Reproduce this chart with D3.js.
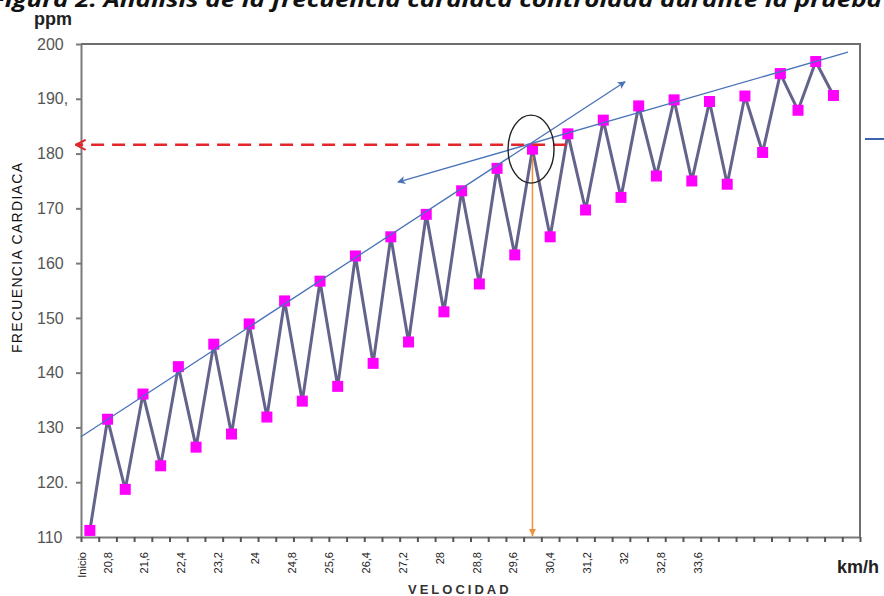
<!DOCTYPE html>
<html>
<head>
<meta charset="utf-8">
<script src="https://cdn.jsdelivr.net/npm/d3@7"></script>
<style>
  body { margin: 0; background: #fff; }
  svg { display: block; font-family: "Liberation Sans", Arial, sans-serif; }
</style>
</head>
<body>
<svg class="chart" width="884" height="596"></svg>
<script>
// Frecuencia cardiaca (ppm) por escalón, de "Inicio" en adelante
const heartRate = [111.2, 131.5, 118.7, 136.1, 123, 141.1, 126.4, 145.2, 128.8, 148.9,
    131.9, 153.1, 134.8, 156.7, 137.5, 161.3, 141.7, 164.8, 145.6, 168.9,
    151.1, 173.2, 156.2, 177.3, 161.5, 180.8, 164.8, 183.6, 169.7, 186.1,
    172, 188.7, 175.9, 189.8, 175, 189.5, 174.4, 190.5, 180.2, 194.6,
    187.9, 196.8, 190.6]

// Etiquetas de velocidad (km/h)
const speedLabels = [20.8, 21.6, 22.4, 23.2, 24, 24.8, 25.6, 26.4, 27.2, 28,
    28.8, 29.6, 30.4, 31.2, 32, 32.8, 33.6]

const yTicks = [200, 190, 180, 170, 160, 150, 140, 130, 120, 110]
const yTickLabels = ['200', '190,', '180', '170', '160', '150', '140', '130', '120.', '110']

// Anotaciones (en escalones / ppm)
const steepTrend = [[0, 128.3], [30.73, 193.1]]
const flatTrend = [[43.32, 198.5], [17.9, 174.8]]
const thresholdHr = 181.6
const thresholdStep = 25.5

const plotLeft = 81, plotRight = 860, plotTop = 44, plotBottom = 537
const slotCount = heartRate.length + 1

const x = d3.scaleLinear().domain([0, slotCount]).range([plotLeft, plotRight])
const y = d3.scaleLinear().domain([110, 200]).range([plotBottom, plotTop])
const speed = d3.scaleLinear()
    .domain([speedLabels[0], speedLabels[speedLabels.length - 1]])
    .range([x(1.5), x(34.85)])

const svg = d3.select('.chart')

const defs = svg.append('defs')

defs.append('marker')
    .attr('id', 'arrow-blue')
    .attr('viewBox', '0 0 10 10')
    .attr('refX', 9).attr('refY', 5)
    .attr('markerWidth', 10).attr('markerHeight', 8)
    .attr('markerUnits', 'userSpaceOnUse')
    .attr('orient', 'auto')
  .append('path')
    .attr('d', 'M0,0 L10,5 L0,10 L2.5,5 Z')
    .attr('fill', '#4a72b8')

defs.append('marker')
    .attr('id', 'arrow-red')
    .attr('viewBox', '0 0 12 12')
    .attr('refX', 11).attr('refY', 6)
    .attr('markerWidth', 12).attr('markerHeight', 12)
    .attr('markerUnits', 'userSpaceOnUse')
    .attr('orient', 'auto')
  .append('path')
    .attr('d', 'M1,1 L11,6 L1,11')
    .attr('fill', 'none')
    .attr('stroke', '#e3262b')
    .attr('stroke-width', 2)

defs.append('marker')
    .attr('id', 'arrow-orange')
    .attr('viewBox', '0 0 10 10')
    .attr('refX', 10).attr('refY', 5)
    .attr('markerWidth', 9).attr('markerHeight', 7)
    .attr('markerUnits', 'userSpaceOnUse')
    .attr('orient', 'auto')
  .append('path')
    .attr('d', 'M0,0 L10,5 L0,10 Z')
    .attr('fill', '#f0923a')

const drawTexts = () => {

    svg.append('text')
        .text('Figura 2. Análisis de la frecuencia cardiaca controlada durante la prueba')
        .attr('x', -9).attr('y', 7)
        .attr('textLength', 891)
        .attr('lengthAdjust', 'spacingAndGlyphs')
        .style('font-family', '"Open Sans", "Noto Sans", sans-serif')
        .style('font-weight', 'bold')
        .style('font-style', 'italic')
        .style('font-size', '21px')
        .attr('fill', '#111')

    svg.append('text')
        .text('ppm')
        .attr('x', 34).attr('y', 25)
        .style('font-weight', 'bold')
        .style('font-size', '18px')
        .attr('fill', '#222')

    svg.append('text')
        .text('FRECUENCIA CARDIACA')
        .attr('transform', `translate(22, 258) rotate(-90)`)
        .attr('text-anchor', 'middle')
        .attr('textLength', 190)
        .style('font-size', '14px')
        .attr('fill', '#111')

    svg.append('text')
        .text('VELOCIDAD')
        .attr('x', 408).attr('y', 594)
        .style('font-weight', 'bold')
        .style('font-size', '13px')
        .style('letter-spacing', '3px')
        .attr('fill', '#333')

    svg.append('text')
        .text('km/h')
        .attr('x', 837).attr('y', 573)
        .style('font-weight', 'bold')
        .style('font-size', '18px')
        .attr('fill', '#222')
}

const drawAxes = () => {

    // Marco superior y derecho
    svg.append('path')
        .attr('d', `M${x(0)},${y(200)} H${x(slotCount)} V${y(110)}`)
        .attr('fill', 'none')
        .attr('stroke', '#6d6d6d')
        .attr('stroke-width', 2)

    const yAxis = svg.append('g')
        .attr('transform', `translate(${plotLeft},0)`)
        .call(d3.axisLeft(y)
            .tickValues(yTicks)
            .tickSize(5)
            .tickSizeOuter(0)
            .tickFormat((d, i) => yTickLabels[i]))

    yAxis.select('.domain').attr('stroke', '#7a7a7a').attr('stroke-width', 2)
    yAxis.selectAll('.tick line').attr('stroke', '#7a7a7a').attr('stroke-width', 2)
    yAxis.selectAll('.tick text')
        .attr('x', -44)
        .attr('text-anchor', 'start')
        .attr('fill', '#555')
        .style('font-size', '16px')
        .style('font-family', '"Liberation Sans", Arial, sans-serif')

    const xAxis = svg.append('g')
        .attr('transform', `translate(0,${plotBottom})`)
        .call(d3.axisBottom(x)
            .tickValues(d3.range(0, slotCount + 1))
            .tickSize(5)
            .tickSizeOuter(0)
            .tickFormat(''))

    xAxis.select('.domain').attr('stroke', '#7a7a7a').attr('stroke-width', 2)
    xAxis.selectAll('.tick line').attr('stroke', '#555').attr('stroke-width', 2)

    const labels = svg.append('g')
        .style('font-size', '11px')
        .attr('fill', '#222')

    labels.append('text')
        .text('Inicio')
        .attr('transform', `translate(${x(0) + 1}, 552) rotate(-90)`)
        .attr('text-anchor', 'end')
        .attr('dominant-baseline', 'central')

    labels.selectAll('.speed')
            .data(speedLabels)
        .enter().append('text')
        .attr('class', 'speed')
        .text(d => String(d).replace('.', ','))
        .attr('transform', d => `translate(${speed(d)}, 552) rotate(-90)`)
        .attr('text-anchor', 'end')
        .attr('dominant-baseline', 'central')
}

const drawSeries = () => {

    const line = d3.line()
        .x((d, i) => x(i + 0.5))
        .y(d => y(d))

    svg.append('path')
        .datum(heartRate)
        .attr('d', line)
        .attr('fill', 'none')
        .attr('stroke', '#52527e')
        .attr('stroke-width', 3)
        .attr('stroke-linejoin', 'round')
        .attr('opacity', 0.9)

    svg.append('g').selectAll('rect')
            .data(heartRate)
        .enter().append('rect')
        .attr('x', (d, i) => x(i + 0.5) - 5.5)
        .attr('y', d => y(d) - 5.5)
        .attr('width', 11)
        .attr('height', 11)
        .attr('fill', '#ff00ff')
}

const drawAnnotations = () => {

    const trend = d3.line()
        .x(d => x(d[0]))
        .y(d => y(d[1]))

    svg.append('path')
        .attr('d', trend(steepTrend))
        .attr('fill', 'none')
        .attr('stroke', '#4a72b8')
        .attr('stroke-width', 1.3)
        .attr('marker-end', 'url(#arrow-blue)')

    svg.append('path')
        .attr('d', trend(flatTrend))
        .attr('fill', 'none')
        .attr('stroke', '#4a72b8')
        .attr('stroke-width', 1.3)
        .attr('marker-end', 'url(#arrow-blue)')

    // Umbral: línea roja discontinua hacia el eje de ppm
    svg.append('line')
        .attr('x1', x(27.4)).attr('y1', y(thresholdHr))
        .attr('x2', x(-0.3)).attr('y2', y(thresholdHr))
        .attr('stroke', '#e3262b')
        .attr('stroke-width', 2.5)
        .attr('stroke-dasharray', '13,8')
        .attr('marker-end', 'url(#arrow-red)')

    // Umbral: línea naranja hacia el eje de velocidad
    svg.append('line')
        .attr('x1', x(thresholdStep)).attr('y1', y(179.5))
        .attr('x2', x(thresholdStep)).attr('y2', y(110) - 1)
        .attr('stroke', '#f0923a')
        .attr('stroke-width', 1.5)
        .attr('marker-end', 'url(#arrow-orange)')

    svg.append('ellipse')
        .attr('cx', x(25.42)).attr('cy', y(180.8))
        .attr('rx', 23).attr('ry', 34)
        .attr('fill', 'none')
        .attr('stroke', '#222')
        .attr('stroke-width', 1.4)

    // Fragmento de leyenda a la derecha
    svg.append('line')
        .attr('x1', 865).attr('y1', 139)
        .attr('x2', 884).attr('y2', 139)
        .attr('stroke', '#3a64b0')
        .attr('stroke-width', 2)
}

drawTexts()
drawAxes()
drawSeries()
drawAnnotations()
</script>
</body>
</html>
